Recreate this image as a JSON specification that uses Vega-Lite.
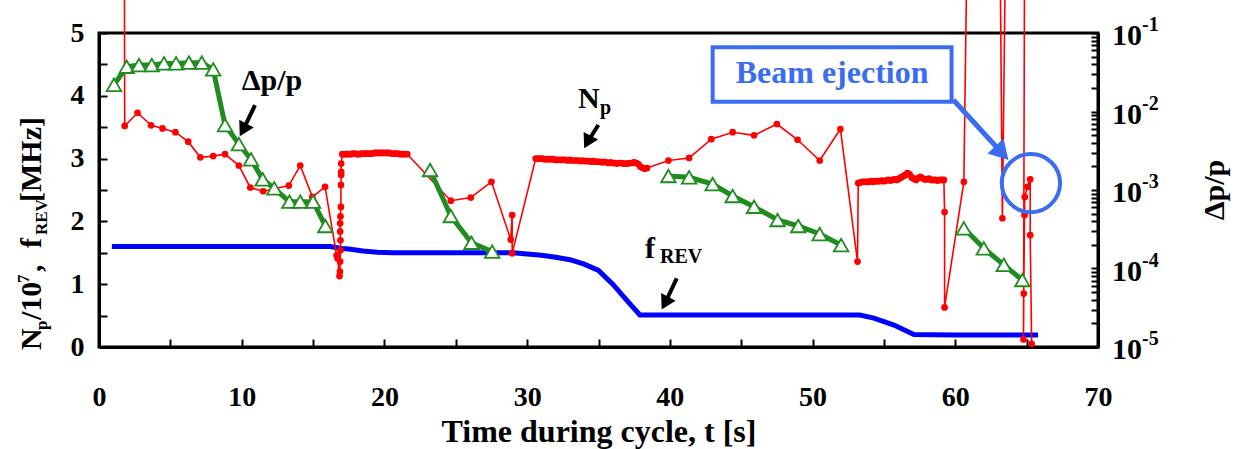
{
  "$schema": "https://vega.github.io/schema/vega-lite/v6.json",
  "width": 999,
  "height": 314,
  "autosize": "none",
  "padding": {"left": 99, "top": 33, "right": 137, "bottom": 102},
  "background": "white",
  "config": {
    "view": {"stroke": "black", "strokeWidth": 3},
    "font": "Liberation Serif",
    "axis": {
      "grid": false, "domainColor": "black", "domainWidth": 3,
      "tickColor": "black", "tickWidth": 2,
      "labelFont": "Liberation Serif", "labelFontWeight": "bold", "labelFontSize": 28, "labelColor": "black",
      "titleFont": "Liberation Serif", "titleFontWeight": "bold", "titleFontSize": 32, "titleColor": "black"
    }
  },
  "datasets": {
    "np": [
      {"i":1,"t":1.78,"v":6},{"i":2,"t":1.8,"v":3.52},{"i":3,"t":2.7,"v":3.73},{"i":4,"t":3.65,"v":3.53},
      {"i":5,"t":4.45,"v":3.48},{"i":6,"t":5.35,"v":3.42},{"i":7,"t":6.25,"v":3.27},{"i":8,"t":7.1,"v":3.02},
      {"i":9,"t":8.0,"v":3.04},{"i":10,"t":8.83,"v":3.07},{"i":11,"t":9.8,"v":2.89},{"i":12,"t":10.6,"v":2.54},
      {"i":13,"t":11.5,"v":2.48},{"i":14,"t":13.3,"v":2.57},{"i":15,"t":14.1,"v":2.89},{"i":16,"t":14.95,"v":2.39},
      {"i":17,"t":15.84,"v":2.55},{"i":18,"t":16.65,"v":1.46},{"i":19,"t":16.72,"v":1.41},{"i":20,"t":16.85,"v":1.13},
      {"i":21,"t":16.88,"v":1.2},{"i":22,"t":16.9,"v":1.36},{"i":23,"t":16.92,"v":1.54},{"i":24,"t":16.92,"v":1.7},
      {"i":25,"t":16.9,"v":1.84},{"i":26,"t":16.9,"v":1.97},{"i":27,"t":16.92,"v":2.08},{"i":28,"t":16.95,"v":2.23},
      {"i":29,"t":16.95,"v":2.58},{"i":30,"t":16.97,"v":2.74},{"i":31,"t":16.97,"v":2.79},{"i":32,"t":16.97,"v":2.92},
      {"i":33,"t":17.05,"v":3.07},{"i":34,"t":17.2,"v":3.07},{"i":35,"t":17.35,"v":3.07},{"i":36,"t":17.5,"v":3.07},
      {"i":37,"t":17.65,"v":3.07},{"i":38,"t":17.8,"v":3.08},{"i":39,"t":17.95,"v":3.08},{"i":40,"t":18.1,"v":3.07},
      {"i":41,"t":18.25,"v":3.07},{"i":42,"t":18.4,"v":3.08},{"i":43,"t":18.55,"v":3.08},{"i":44,"t":18.7,"v":3.08},
      {"i":45,"t":18.85,"v":3.08},{"i":46,"t":19.0,"v":3.08},{"i":47,"t":19.15,"v":3.08},{"i":48,"t":19.3,"v":3.09},
      {"i":49,"t":19.45,"v":3.09},{"i":50,"t":19.6,"v":3.09},{"i":51,"t":19.75,"v":3.09},{"i":52,"t":19.9,"v":3.09},
      {"i":53,"t":20.05,"v":3.09},{"i":54,"t":20.2,"v":3.09},{"i":55,"t":20.35,"v":3.09},{"i":56,"t":20.5,"v":3.08},
      {"i":57,"t":20.65,"v":3.08},{"i":58,"t":20.8,"v":3.08},{"i":59,"t":20.95,"v":3.08},{"i":60,"t":21.1,"v":3.07},
      {"i":61,"t":21.25,"v":3.07},{"i":62,"t":21.4,"v":3.07},{"i":63,"t":21.6,"v":3.07},
      {"i":64,"t":24.65,"v":2.33},{"i":65,"t":26.05,"v":2.38},{"i":66,"t":27.5,"v":2.63},{"i":67,"t":28.85,"v":1.71},
      {"i":68,"t":28.95,"v":2.1},{"i":69,"t":28.95,"v":1.49},
      {"i":70,"t":30.6,"v":3.0},{"i":71,"t":30.75,"v":3.0},{"i":72,"t":30.9,"v":3.0},{"i":73,"t":31.05,"v":3.0},
      {"i":74,"t":31.2,"v":2.99},{"i":75,"t":31.35,"v":2.99},{"i":76,"t":31.5,"v":2.99},{"i":77,"t":31.65,"v":2.99},
      {"i":78,"t":31.8,"v":2.99},{"i":79,"t":31.95,"v":2.98},{"i":80,"t":32.1,"v":2.98},{"i":81,"t":32.25,"v":2.98},
      {"i":82,"t":32.4,"v":2.98},{"i":83,"t":32.55,"v":2.98},{"i":84,"t":32.7,"v":2.98},{"i":85,"t":32.85,"v":2.97},
      {"i":86,"t":33.0,"v":2.98},{"i":87,"t":33.15,"v":2.97},{"i":88,"t":33.3,"v":2.97},{"i":89,"t":33.45,"v":2.97},
      {"i":90,"t":33.6,"v":2.97},{"i":91,"t":33.75,"v":2.96},{"i":92,"t":33.9,"v":2.97},{"i":93,"t":34.05,"v":2.96},
      {"i":94,"t":34.2,"v":2.96},{"i":95,"t":34.35,"v":2.96},{"i":96,"t":34.5,"v":2.95},{"i":97,"t":34.65,"v":2.96},
      {"i":98,"t":34.8,"v":2.95},{"i":99,"t":34.95,"v":2.95},{"i":100,"t":35.1,"v":2.95},{"i":101,"t":35.25,"v":2.94},
      {"i":102,"t":35.4,"v":2.95},{"i":103,"t":35.55,"v":2.94},{"i":104,"t":35.7,"v":2.93},{"i":105,"t":35.85,"v":2.94},
      {"i":106,"t":36.0,"v":2.93},{"i":107,"t":36.15,"v":2.93},{"i":108,"t":36.3,"v":2.92},{"i":109,"t":36.45,"v":2.93},
      {"i":110,"t":36.6,"v":2.93},{"i":111,"t":36.75,"v":2.92},{"i":112,"t":36.9,"v":2.92},{"i":113,"t":37.05,"v":2.92},
      {"i":114,"t":37.2,"v":2.93},{"i":115,"t":37.35,"v":2.93},{"i":116,"t":37.5,"v":2.94},{"i":117,"t":37.65,"v":2.93},
      {"i":118,"t":37.8,"v":2.91},{"i":119,"t":37.95,"v":2.87},{"i":120,"t":38.1,"v":2.85},{"i":121,"t":38.25,"v":2.84},
      {"i":122,"t":38.4,"v":2.85},
      {"i":123,"t":39.9,"v":2.97},{"i":124,"t":41.35,"v":3.01},{"i":125,"t":42.9,"v":3.31},{"i":126,"t":44.4,"v":3.42},
      {"i":127,"t":45.9,"v":3.37},{"i":128,"t":47.5,"v":3.55},{"i":129,"t":48.95,"v":3.3},{"i":130,"t":50.5,"v":2.97},
      {"i":131,"t":51.95,"v":3.47},{"i":132,"t":53.15,"v":1.36},
      {"i":133,"t":53.2,"v":2.61},{"i":134,"t":53.35,"v":2.62},{"i":135,"t":53.5,"v":2.63},{"i":136,"t":53.65,"v":2.63},
      {"i":137,"t":53.8,"v":2.63},{"i":138,"t":53.95,"v":2.63},{"i":139,"t":54.1,"v":2.64},{"i":140,"t":54.25,"v":2.63},
      {"i":141,"t":54.4,"v":2.64},{"i":142,"t":54.55,"v":2.64},{"i":143,"t":54.7,"v":2.64},{"i":144,"t":54.85,"v":2.65},
      {"i":145,"t":55.0,"v":2.64},{"i":146,"t":55.15,"v":2.65},{"i":147,"t":55.3,"v":2.66},{"i":148,"t":55.45,"v":2.65},
      {"i":149,"t":55.6,"v":2.66},{"i":150,"t":55.75,"v":2.67},{"i":151,"t":55.9,"v":2.66},{"i":152,"t":56.05,"v":2.68},
      {"i":153,"t":56.2,"v":2.7},{"i":154,"t":56.35,"v":2.72},{"i":155,"t":56.5,"v":2.74},{"i":156,"t":56.65,"v":2.77},
      {"i":157,"t":56.8,"v":2.75},{"i":158,"t":56.95,"v":2.7},{"i":159,"t":57.1,"v":2.68},{"i":160,"t":57.25,"v":2.66},
      {"i":161,"t":57.4,"v":2.69},{"i":162,"t":57.55,"v":2.71},{"i":163,"t":57.7,"v":2.69},{"i":164,"t":57.85,"v":2.67},
      {"i":165,"t":58.0,"v":2.67},{"i":166,"t":58.15,"v":2.68},{"i":167,"t":58.3,"v":2.66},{"i":168,"t":58.45,"v":2.66},
      {"i":169,"t":58.6,"v":2.66},{"i":170,"t":58.75,"v":2.65},{"i":171,"t":58.9,"v":2.66},{"i":172,"t":59.05,"v":2.66},
      {"i":173,"t":59.2,"v":2.66},
      {"i":174,"t":59.25,"v":2.15},{"i":175,"t":59.25,"v":0.63},{"i":176,"t":60.6,"v":2.63},{"i":177,"t":60.8,"v":6},
      {"i":178,"t":63.15,"v":6},{"i":179,"t":63.3,"v":2.05},{"i":180,"t":63.5,"v":6},{"i":181,"t":64.85,"v":6},
      {"i":182,"t":64.78,"v":0.12},{"i":183,"t":64.8,"v":0.85},{"i":184,"t":64.85,"v":2.1},{"i":185,"t":64.87,"v":2.39},
      {"i":186,"t":65.05,"v":2.55},{"i":187,"t":65.25,"v":2.67},{"i":188,"t":65.25,"v":1.78},{"i":189,"t":65.35,"v":0.05}
    ],
    "frev": [
      {"t":0.9,"v":1.6},{"t":5,"v":1.6},{"t":10,"v":1.6},{"t":15,"v":1.6},{"t":16.2,"v":1.6},{"t":17.0,"v":1.57},
      {"t":17.5,"v":1.56},{"t":18.5,"v":1.53},{"t":19.5,"v":1.51},{"t":20.6,"v":1.5},{"t":25,"v":1.5},{"t":29,"v":1.5},
      {"t":30,"v":1.48},{"t":31,"v":1.46},{"t":32,"v":1.43},{"t":33,"v":1.39},{"t":34,"v":1.32},{"t":35,"v":1.22},
      {"t":36,"v":1.0},{"t":37,"v":0.74},{"t":37.9,"v":0.51},{"t":45,"v":0.51},{"t":53.3,"v":0.51},{"t":54.3,"v":0.46},
      {"t":55.7,"v":0.35},{"t":57.1,"v":0.2},{"t":60,"v":0.19},{"t":65.8,"v":0.19}
    ],
    "dpp": [
      {"seg":1,"t":1.05,"dp":0.0219},{"seg":1,"t":1.94,"dp":0.0372},{"seg":1,"t":2.8,"dp":0.0391},{"seg":1,"t":3.7,"dp":0.0391},
      {"seg":1,"t":4.55,"dp":0.041},{"seg":1,"t":5.4,"dp":0.041},{"seg":1,"t":6.3,"dp":0.0419},{"seg":1,"t":7.2,"dp":0.0419},
      {"seg":1,"t":8.0,"dp":0.0344},{"seg":1,"t":8.83,"dp":0.00673},{"seg":1,"t":9.8,"dp":0.00385},{"seg":1,"t":10.65,"dp":0.00246},
      {"seg":1,"t":11.47,"dp":0.00137},{"seg":1,"t":12.28,"dp":0.00105},{"seg":1,"t":13.34,"dp":0.00071},{"seg":1,"t":14.1,"dp":0.00071},
      {"seg":1,"t":15.0,"dp":0.00071},{"seg":1,"t":15.86,"dp":0.000348},
      {"seg":2,"t":23.2,"dp":0.0018},{"seg":2,"t":24.65,"dp":0.000467},{"seg":2,"t":26.1,"dp":0.000213},{"seg":2,"t":27.55,"dp":0.000164},
      {"seg":3,"t":39.9,"dp":0.00151},{"seg":3,"t":41.35,"dp":0.00145},{"seg":3,"t":43.0,"dp":0.00119},{"seg":3,"t":44.4,"dp":0.000839},
      {"seg":3,"t":45.9,"dp":0.000612},{"seg":3,"t":47.55,"dp":0.000415},{"seg":3,"t":49.0,"dp":0.000348},{"seg":3,"t":50.5,"dp":0.000275},
      {"seg":3,"t":52.0,"dp":0.000199},
      {"seg":4,"t":60.6,"dp":0.000325},{"seg":4,"t":62.0,"dp":0.000181},{"seg":4,"t":63.4,"dp":0.000111},{"seg":4,"t":64.7,"dp":0.0000714}
    ],
    "decades": [
      {"t":70,"dp":0.00001,"e":"-5"},{"t":70,"dp":0.0001,"e":"-4"},{"t":70,"dp":0.001,"e":"-3"},{"t":70,"dp":0.01,"e":"-2"},{"t":70,"dp":0.1,"e":"-1"}
    ],
    "arrows": [
      {"kind":"b","t":10.93,"v":3.85,"t2":10.10,"v2":3.457},
      {"kind":"b","t":34.99,"v":3.535,"t2":34.23,"v2":3.264},
      {"kind":"b","t":40.48,"v":1.094,"t2":39.66,"v2":0.697},
      {"kind":"e","t":59.87,"v":3.933,"t2":63.27,"v2":3.089}
    ],
    "heads": [
      {"kind":"b","t":10.10,"v":3.457},
      {"kind":"b","t":34.23,"v":3.264},
      {"kind":"b","t":39.66,"v":0.697},
      {"kind":"e","t":63.27,"v":3.089}
    ],
    "box": [{"t":43.0,"t2":59.74,"v":4.772,"v2":3.906}],
    "ring": [{"t":65.3,"v":2.61}],
    "notes": [
      {"kind":"bigc","t":12.12,"v":4.09,"label":"Δp/p"},
      {"kind":"bigl","t":33.57,"v":3.806,"label":"N"},
      {"kind":"bigl","t":38.26,"v":1.417,"label":"f"},
      {"kind":"sub","t":35.1,"v":3.71,"label":"p"},
      {"kind":"sub","t":39.31,"v":1.338,"label":"REV"},
      {"kind":"blue","t":51.37,"v":4.199,"label":"Beam ejection"},
      {"kind":"rmain","t":-4.065,"v":-0.048,"label":"N"},
      {"kind":"rmain","t":-4.065,"v":0.43,"label":"/10"},
      {"kind":"rmain","t":-4.065,"v":1.194,"label":","},
      {"kind":"rmain","t":-4.065,"v":1.576,"label":"f"},
      {"kind":"rmain","t":-4.065,"v":2.309,"label":"[MHz]"},
      {"kind":"rsub","t":-3.64,"v":0.271,"label":"p"},
      {"kind":"rsub","t":-3.64,"v":1.783,"label":"REV"},
      {"kind":"rsup","t":-4.905,"v":1.019,"label":"7"},
      {"kind":"rtitle","t":78.2,"v":2.5,"label":"Δp/p"}
    ]
  },
  "resolve": {"scale": {"y": "independent"}},
  "encoding": {
    "x": {"field": "t", "type": "quantitative", "scale": {"domain": [0, 70], "nice": false, "zero": false},
          "axis": {"values": [0,5,10,15,20,25,30,35,40,45,50,55,60,65,70], "labelExpr": "datum.value % 10 == 0 ? format(datum.value, 'd') : ''",
                   "tickSize": -8, "labelPadding": 44, "title": "Time during cycle, t [s]", "titlePadding": 5, "labelFlush": false, "labelOverlap": false,
                   "labelFont": "Liberation Serif", "labelFontWeight": "bold", "labelFontSize": 28,
                   "titleFont": "Liberation Serif", "titleFontWeight": "bold", "titleFontSize": 32}}
  },
  "layer": [
    {
      "encoding": {
        "y": {"field": "v", "type": "quantitative", "scale": {"domain": [0, 5], "nice": false, "zero": false},
              "axis": {"orient": "left", "values": [0,0.5,1,1.5,2,2.5,3,3.5,4,4.5,5], "labelExpr": "datum.value % 1 == 0 ? format(datum.value, 'd') : ''",
                       "tickSize": -8, "labelPadding": 23, "title": null, "labelFlush": false, "labelOverlap": false,
                       "labelFont": "Liberation Serif", "labelFontWeight": "bold", "labelFontSize": 28}}
      },
      "layer": [
        {"data": {"name": "frev"}, "mark": {"type": "line", "color": "#0000ff", "strokeWidth": 5}},
        {"data": {"name": "np"}, "mark": {"type": "line", "color": "#ff0000", "strokeWidth": 1.6}, "encoding": {"order": {"field": "i", "type": "quantitative"}}},
        {"data": {"name": "np"}, "mark": {"type": "point", "shape": "circle", "filled": true, "color": "#ff0000", "size": 45, "opacity": 1}}
      ]
    },
    {
      "encoding": {
        "y": {"field": "dp", "type": "quantitative", "scale": {"type": "log", "domain": [0.00001, 0.1], "nice": false},
              "axis": {"orient": "right", "values": [0.00001,0.00002,0.00003,0.00004,0.00005,0.00006,0.00007,0.00008,0.00009,0.0001,0.0002,0.0003,0.0004,0.0005,0.0006,0.0007,0.0008,0.0009,0.001,0.002,0.003,0.004,0.005,0.006,0.007,0.008,0.009,0.01,0.02,0.03,0.04,0.05,0.06,0.07,0.08,0.09,0.1],
                       "labels": false, "tickSize": -7, "title": null}}
      },
      "layer": [
        {"data": {"name": "dpp"}, "mark": {"type": "line", "color": "#1f8c1f", "strokeWidth": 5}, "encoding": {"detail": {"field": "seg"}}},
        {"data": {"name": "dpp"}, "mark": {"type": "point", "shape": "triangle-up", "filled": true, "fill": "white", "stroke": "#1f8c1f", "strokeWidth": 1.8, "size": 210, "opacity": 1}},
        {"data": {"name": "decades"}, "mark": {"type": "text", "font": "Liberation Serif", "fontWeight": "bold", "fontSize": 30, "align": "left", "baseline": "middle", "dx": 14, "dy": 3, "color": "black"},
         "encoding": {"text": {"value": "10"}}},
        {"data": {"name": "decades"}, "mark": {"type": "text", "font": "Liberation Serif", "fontWeight": "bold", "fontSize": 20, "align": "left", "baseline": "middle", "dx": 44, "dy": -8, "color": "black"},
         "encoding": {"text": {"field": "e"}}}
      ]
    },
    {
      "encoding": {
        "y": {"field": "v", "type": "quantitative", "scale": {"domain": [0, 5], "nice": false, "zero": false}, "axis": null}
      },
      "layer": [
        {"data": {"name": "arrows"}, "transform": [{"filter": "datum.kind == 'b'"}], "mark": {"type": "rule", "color": "black", "strokeWidth": 4},
         "encoding": {"x2": {"field": "t2"}, "y2": {"field": "v2"}}},
        {"data": {"name": "heads"}, "transform": [{"filter": "datum.kind == 'b'"}], "mark": {"type": "point", "shape": "triangle-up", "filled": true, "color": "black", "size": 270, "angle": 208, "opacity": 1}},
        {"data": {"name": "box"}, "mark": {"type": "rect", "fill": "white", "stroke": "#3a6df0", "strokeWidth": 4},
         "encoding": {"x2": {"field": "t2"}, "y2": {"field": "v2"}}},
        {"data": {"name": "arrows"}, "transform": [{"filter": "datum.kind == 'e'"}], "mark": {"type": "rule", "color": "#3a6df0", "strokeWidth": 5},
         "encoding": {"x2": {"field": "t2"}, "y2": {"field": "v2"}}},
        {"data": {"name": "heads"}, "transform": [{"filter": "datum.kind == 'e'"}], "mark": {"type": "point", "shape": "triangle-up", "filled": true, "color": "#3a6df0", "size": 480, "angle": 137, "opacity": 1}},
        {"data": {"name": "ring"}, "mark": {"type": "point", "shape": "circle", "filled": false, "stroke": "#3a6df0", "strokeWidth": 4, "size": 3400, "opacity": 1}},
        {"data": {"name": "notes"}, "transform": [{"filter": "datum.kind == 'bigc'"}],
         "mark": {"type": "text", "font": "Liberation Serif", "fontWeight": "bold", "fontSize": 30, "align": "center", "baseline": "alphabetic", "color": "black"},
         "encoding": {"text": {"field": "label"}}},
        {"data": {"name": "notes"}, "transform": [{"filter": "datum.kind == 'bigl'"}],
         "mark": {"type": "text", "font": "Liberation Serif", "fontWeight": "bold", "fontSize": 30, "align": "left", "baseline": "alphabetic", "color": "black"},
         "encoding": {"text": {"field": "label"}}},
        {"data": {"name": "notes"}, "transform": [{"filter": "datum.kind == 'sub'"}],
         "mark": {"type": "text", "font": "Liberation Serif", "fontWeight": "bold", "fontSize": 20, "align": "left", "baseline": "alphabetic", "color": "black"},
         "encoding": {"text": {"field": "label"}}},
        {"data": {"name": "notes"}, "transform": [{"filter": "datum.kind == 'blue'"}],
         "mark": {"type": "text", "font": "Liberation Serif", "fontWeight": "bold", "fontSize": 32, "align": "center", "baseline": "alphabetic", "color": "#3a6df0"},
         "encoding": {"text": {"field": "label"}}},
        {"data": {"name": "notes"}, "transform": [{"filter": "datum.kind == 'rmain'"}],
         "mark": {"type": "text", "font": "Liberation Serif", "fontWeight": "bold", "fontSize": 30, "align": "left", "baseline": "alphabetic", "angle": 270, "color": "black"},
         "encoding": {"text": {"field": "label"}}},
        {"data": {"name": "notes"}, "transform": [{"filter": "datum.kind == 'rsub' || datum.kind == 'rsup'"}],
         "mark": {"type": "text", "font": "Liberation Serif", "fontWeight": "bold", "fontSize": 17, "align": "left", "baseline": "alphabetic", "angle": 270, "color": "black"},
         "encoding": {"text": {"field": "label"}}},
        {"data": {"name": "notes"}, "transform": [{"filter": "datum.kind == 'rtitle'"}],
         "mark": {"type": "text", "font": "Liberation Serif", "fontWeight": "bold", "fontSize": 30, "align": "center", "baseline": "middle", "angle": 270, "color": "black"},
         "encoding": {"text": {"field": "label"}}}
      ]
    }
  ]
}
